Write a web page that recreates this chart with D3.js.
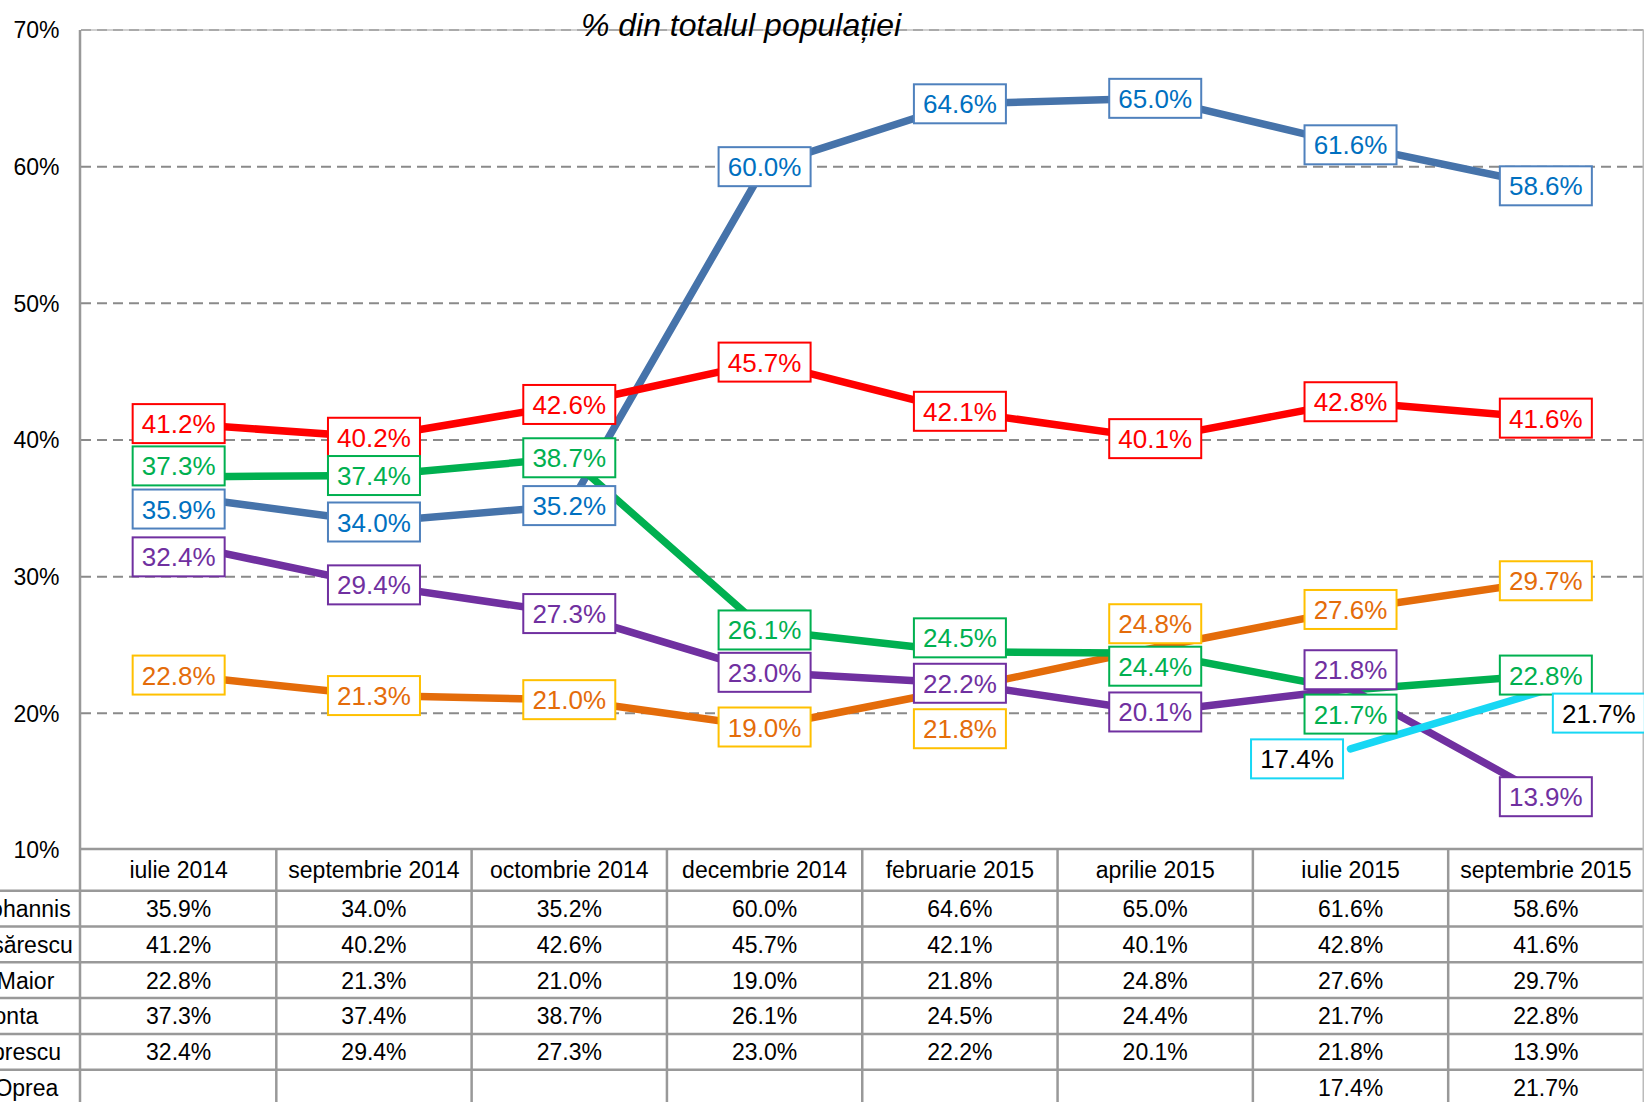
<!DOCTYPE html>
<html>
<head>
<meta charset="utf-8">
<script src="https://cdn.jsdelivr.net/npm/d3@7"></script>
<style>
  body { margin: 0; background: #fff; overflow: hidden; }
  text { font-family: "Liberation Sans", Arial, sans-serif; }
</style>
</head>
<body>
<div id="plot"></div>
<script>
var months = ["iulie 2014", "septembrie 2014", "octombrie 2014", "decembrie 2014",
  "februarie 2015", "aprilie 2015", "iulie 2015", "septembrie 2015"];
var iohannis = [35.9, 34.0, 35.2, 60.0, 64.6, 65.0, 61.6, 58.6];
var isarescu = [41.2, 40.2, 42.6, 45.7, 42.1, 40.1, 42.8, 41.6];
var maior = [22.8, 21.3, 21.0, 19.0, 21.8, 24.8, 27.6, 29.7];
var ponta = [37.3, 37.4, 38.7, 26.1, 24.5, 24.4, 21.7, 22.8];
var oprescu = [32.4, 29.4, 27.3, 23.0, 22.2, 20.1, 21.8, 13.9];
var oprea = [null, null, null, null, null, null, 17.4, 21.7];
var rowNames = ["Iohannis", "Isărescu", "Maior", "Ponta", "Oprescu", "Oprea"];
var yTicks = [10, 20, 30, 40, 50, 60, 70];
var title = "% din totalul populației";

var series = [
  { values: iohannis, line: "#4673AA", text: "#0070C0", border: "#4F81BD" },
  { values: isarescu, line: "#FF0000", text: "#FF0000", border: "#FF0000" },
  { values: maior, line: "#E46C0A", text: "#E46C0A", border: "#FFC000" },
  { values: ponta, line: "#00B050", text: "#00B050", border: "#00B050" },
  { values: oprescu, line: "#7030A0", text: "#7030A0", border: "#7030A0" },
  { values: oprea, line: "#17D7F4", text: "#000000", border: "#17D7F4" }
];

// label nudges (dx, dy) so boxes don't overlap, as in the original
var nudge = {
  "0-0": [0, 13], "3-0": [0, -11], "4-0": [0, 13],
  "3-4": [0, -14], "2-4": [0, 40],
  "2-5": [0, -24], "3-5": [0, 13],
  "4-6": [0, -19], "3-6": [0, 24], "5-6": [-53.5, 10],
  "5-7": [53, 23]
};
// right edge of the (clipped) row names
var rowNameRight = [70.7, 72.7, 54.3, 38.3, 61, 58.3];

var W = 1644, H = 1102;
var plotL = 81, plotR = 1643.5, plotT = 30, plotB = 850;
var headH = 41.7, rowH = 35.8;

var svg = d3.select("#plot").append("svg")
  .attr("width", W).attr("height", H);

var x = d3.scaleBand().domain(months).range([plotL, plotR]).padding(0);
var xc = function (i) { return x(months[i]) + x.bandwidth() / 2; };
var y = d3.scaleLinear().domain([10, 70]).range([plotB, plotT]);

// plot frame
svg.append("line").attr("x1", plotL).attr("x2", W).attr("y1", plotT).attr("y2", plotT)
  .attr("stroke", "#d0d0d0").attr("stroke-width", 2);

// gridlines
svg.append("g").selectAll("line")
  .data(yTicks.filter(function (d) { return d > 10; }))
  .join("line")
  .attr("x1", plotL).attr("x2", W)
  .attr("y1", function (d) { return y(d); }).attr("y2", function (d) { return y(d); })
  .attr("stroke", function (d) { return d === 70 ? "#aaaaaa" : "#8a8a8a"; })
  .attr("stroke-width", 2)
  .attr("stroke-dasharray", "10,6");

// y labels
svg.append("g").selectAll("text")
  .data(yTicks)
  .join("text")
  .attr("x", 59.5)
  .attr("y", function (d) { return y(d) + 8.3; })
  .attr("text-anchor", "end")
  .style("font-size", "23px")
  .attr("fill", "#000")
  .text(function (d) { return d + "%"; });

// title
svg.append("text")
  .attr("x", 741).attr("y", 36)
  .attr("text-anchor", "middle")
  .style("font-size", "32px").style("font-style", "italic")
  .text(title);

// table
var tableTop = plotB - 1;
var hLines = [];
for (var r = 0; r <= rowNames.length + 1; r++) {
  hLines.push(r === 0 ? tableTop : tableTop + headH + (r - 1) * rowH);
}
svg.append("g").selectAll("line")
  .data(hLines)
  .join("line")
  .attr("x1", function (d, i) { return i === 0 ? plotL - 1 : 0; })
  .attr("x2", W)
  .attr("y1", function (d) { return d; }).attr("y2", function (d) { return d; })
  .attr("stroke", "#999").attr("stroke-width", 2.5);

var vEdges = months.map(function (m) { return x(m); });
svg.append("g").selectAll("line")
  .data(vEdges.slice(1))
  .join("line")
  .attr("x1", function (d) { return d; }).attr("x2", function (d) { return d; })
  .attr("y1", tableTop).attr("y2", H)
  .attr("stroke", "#999").attr("stroke-width", 2.5);
svg.append("line").attr("x1", plotL - 1).attr("x2", plotL - 1).attr("y1", plotT).attr("y2", H)
  .attr("stroke", "#999").attr("stroke-width", 2.5);
svg.append("line").attr("x1", plotR).attr("x2", plotR).attr("y1", plotT).attr("y2", H)
  .attr("stroke", "#bbb").attr("stroke-width", 2);

// header
svg.append("g").selectAll("text")
  .data(months)
  .join("text")
  .attr("x", function (d, i) { return xc(i); })
  .attr("y", tableTop + headH / 2 + 8.3)
  .attr("text-anchor", "middle")
  .style("font-size", "23px")
  .text(function (d) { return d; });

// rows
series.forEach(function (s, si) {
  var rowMid = tableTop + headH + si * rowH + rowH / 2;
  svg.append("text")
    .attr("x", rowNameRight[si]).attr("y", rowMid + 8.3)
    .attr("text-anchor", "end")
    .style("font-size", "23px")
    .text(rowNames[si]);
  svg.append("g").selectAll("text")
    .data(s.values)
    .join("text")
    .attr("x", function (d, i) { return xc(i); })
    .attr("y", rowMid + 8.3)
    .attr("text-anchor", "middle")
    .style("font-size", "23px")
    .text(function (d) { return d == null ? "" : d.toFixed(1) + "%"; });
});

// lines
var line = d3.line()
  .defined(function (d) { return d != null; })
  .x(function (d, i) { return xc(i); })
  .y(function (d) { return y(d); });

series.forEach(function (s) {
  svg.append("path")
    .datum(s.values)
    .attr("d", line)
    .attr("fill", "none")
    .attr("stroke", s.line)
    .attr("stroke-width", 7.5)
    .attr("stroke-linejoin", "round")
    .attr("stroke-linecap", "round");
});

// data labels
var boxW = 92, boxH = 39;
series.forEach(function (s, si) {
  s.values.forEach(function (v, i) {
    if (v == null) return;
    var n = nudge[si + "-" + i] || [0, 0];
    var cx = xc(i) + n[0], cy = y(v) + n[1];
    var g = svg.append("g");
    g.append("rect")
      .attr("x", cx - boxW / 2).attr("y", cy - boxH / 2)
      .attr("width", boxW).attr("height", boxH)
      .attr("fill", "#fff")
      .attr("stroke", s.border).attr("stroke-width", 2);
    g.append("text")
      .attr("x", cx).attr("y", cy + 9.5)
      .attr("text-anchor", "middle")
      .style("font-size", "26px")
      .attr("fill", s.text)
      .text(v.toFixed(1) + "%");
  });
});
</script>
</body>
</html>
